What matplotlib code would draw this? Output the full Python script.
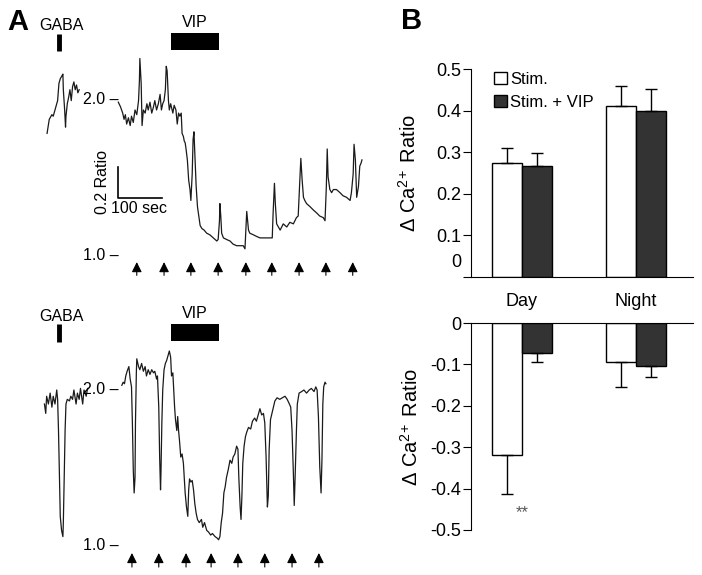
import numpy as np
import matplotlib
matplotlib.use("Agg")
import matplotlib.pyplot as plt
from matplotlib.patches import Patch

plt.rcParams['font.family'] = ['Liberation Sans', 'DejaVu Sans']
plt.rcParams['mathtext.fontset'] = 'custom'
plt.rcParams['mathtext.rm'] = 'Liberation Sans'
plt.rcParams['mathtext.it'] = 'Liberation Sans:italic'
plt.rcParams['axes.unicode_minus'] = False

# ---- Panel A: Ca2+ ratio traces (time in s, ratio) ----
top_seg1_t = [0, 5, 11, 14, 18, 24, 27, 30, 34, 36, 37, 40, 42, 43, 46, 49, 52, 55, 58, 61, 64, 67, 70, 73]
top_seg1_r = [1.78, 1.87, 1.90, 1.89, 1.93, 1.99, 2.10, 2.13, 2.15, 2.16, 2.06, 1.93, 1.82, 1.89, 1.97, 2.01,
              2.06, 1.99, 2.08, 2.11, 2.06, 2.09, 2.04, 2.06]
top_seg2_t = [162, 167, 172, 175, 178, 181, 185, 189, 192, 196, 200, 204, 208, 210, 211, 214, 216, 219, 223, 227,
              230, 234, 238, 242, 245, 249, 253, 257, 260, 263, 266, 269, 271, 273, 276, 278, 281, 286, 289, 293,
              296, 299, 302, 305, 307, 310, 312, 314, 316, 319, 322, 325, 327, 330, 332, 334, 336, 339, 342, 345,
              348, 352, 357, 363, 370, 378, 386, 389, 392, 393, 395, 397, 401, 408, 416, 423, 431, 439, 446, 450,
              452, 454, 455, 458, 461, 469, 476, 484, 492, 499, 507, 512, 514, 517, 519, 522, 526, 530, 537, 545,
              552, 560, 567, 571, 574, 577, 580, 583, 586, 590, 598, 605, 613, 620, 628, 632, 635, 637, 639, 643,
              647, 651, 658, 666, 673, 681, 689, 692, 696, 698, 701, 704, 708, 711, 714, 716]
top_seg2_r = [1.98, 1.95, 1.91, 1.87, 1.90, 1.84, 1.88, 1.83, 1.89, 1.85, 1.93, 1.90, 1.99, 2.12, 2.26, 2.10,
              1.83, 1.93, 1.91, 1.97, 1.93, 1.98, 1.91, 1.95, 1.99, 1.93, 1.97, 2.03, 1.93, 1.97, 1.99, 2.06,
              2.21, 2.18, 1.99, 1.93, 1.97, 1.91, 1.96, 1.93, 1.84, 1.91, 1.89, 1.91, 1.78, 1.76, 1.73, 1.72,
              1.68, 1.61, 1.48, 1.42, 1.35, 1.52, 1.74, 1.79, 1.65, 1.44, 1.31, 1.25, 1.19, 1.17, 1.16, 1.14,
              1.13, 1.11, 1.09, 1.10, 1.22, 1.33, 1.25, 1.14, 1.11, 1.10, 1.09, 1.07, 1.06, 1.06, 1.06, 1.04,
              1.16, 1.28, 1.25, 1.16, 1.14, 1.13, 1.12, 1.11, 1.11, 1.11, 1.11, 1.11, 1.27, 1.46, 1.33, 1.20,
              1.18, 1.16, 1.20, 1.18, 1.21, 1.20, 1.24, 1.25, 1.44, 1.62, 1.48, 1.37, 1.35, 1.33, 1.31, 1.29,
              1.27, 1.25, 1.24, 1.22, 1.44, 1.68, 1.50, 1.42, 1.40, 1.42, 1.42, 1.40, 1.38, 1.37, 1.35, 1.40,
              1.52, 1.71, 1.61, 1.37, 1.44, 1.57, 1.59, 1.61]

bot_seg1_t = [-6, -3, -1, 3, 7, 11, 14, 18, 22, 24, 26, 28, 30, 33, 36, 37, 39, 41, 43, 46, 51, 54, 58, 61,
              66, 69, 73, 76, 81, 84, 89, 92]
bot_seg1_r = [1.91, 1.85, 1.96, 1.91, 1.98, 1.89, 1.96, 1.91, 2.00, 1.94, 1.74, 1.47, 1.19, 1.10, 1.06, 1.15,
              1.44, 1.74, 1.91, 1.94, 1.93, 1.96, 1.94, 2.00, 1.91, 1.98, 1.94, 2.01, 1.91, 2.00, 1.96, 2.01]
bot_seg2_t = [170, 173, 176, 179, 182, 186, 189, 192, 194, 196, 198, 200, 201, 203, 204, 208, 211, 215, 219,
              223, 226, 230, 234, 238, 242, 245, 249, 251, 254, 256, 258, 259, 261, 263, 266, 269, 272, 275,
              278, 281, 283, 286, 288, 290, 292, 295, 297, 299, 301, 304, 307, 310, 312, 314, 317, 320, 322,
              324, 327, 330, 333, 336, 339, 342, 346, 351, 354, 358, 363, 367, 372, 376, 382, 387, 390, 393,
              396, 399, 402, 405, 408, 412, 416, 420, 423, 427, 431, 434, 436, 439, 441, 443, 445, 448, 451,
              454, 458, 463, 467, 472, 476, 481, 484, 488, 492, 495, 498, 501, 503, 505, 508, 513, 518, 523,
              529, 535, 541, 546, 551, 554, 557, 560, 562, 564, 567, 569, 573, 579, 584, 590, 596, 601, 607,
              611, 614, 617, 620, 623, 625, 627, 629, 632, 634]
bot_seg2_r = [2.03, 2.05, 2.04, 2.09, 2.12, 2.15, 2.07, 2.02, 1.79, 1.49, 1.34, 1.44, 1.79, 2.11, 2.20, 2.15,
              2.13, 2.17, 2.12, 2.15, 2.09, 2.13, 2.10, 2.13, 2.11, 2.12, 2.07, 2.09, 1.89, 1.57, 1.36, 1.47,
              1.79, 2.00, 2.13, 2.17, 2.19, 2.22, 2.25, 2.21, 2.09, 2.11, 2.00, 1.89, 1.81, 1.74, 1.83, 1.74,
              1.68, 1.57, 1.59, 1.53, 1.44, 1.34, 1.25, 1.19, 1.36, 1.43, 1.41, 1.42, 1.36, 1.27, 1.21, 1.17,
              1.15, 1.17, 1.12, 1.15, 1.10, 1.09, 1.07, 1.08, 1.06, 1.05, 1.04, 1.06, 1.15, 1.21, 1.34, 1.38,
              1.44, 1.49, 1.55, 1.53, 1.57, 1.59, 1.64, 1.62, 1.44, 1.25, 1.17, 1.32, 1.53, 1.64, 1.70, 1.73,
              1.76, 1.75, 1.80, 1.82, 1.80, 1.85, 1.88, 1.84, 1.85, 1.79, 1.57, 1.25, 1.32, 1.62, 1.81, 1.87,
              1.93, 1.95, 1.94, 1.95, 1.96, 1.94, 1.91, 1.89, 1.74, 1.47, 1.26, 1.44, 1.74, 1.91, 1.98, 1.99,
              2.00, 1.98, 2.00, 2.01, 1.99, 2.02, 2.00, 1.83, 1.51, 1.34, 1.55, 1.91, 2.02, 2.05, 2.04]

top_stim_times = [204, 266, 327, 389, 452, 511, 573, 634, 695]
bot_stim_times = [193, 254, 316, 373, 434, 495, 557, 618]
gaba_time = 27
vip_on, vip_off = 282, 390

# ---- Panel B: bar data ----
groups = ['Day', 'Night']
inc_stim = [0.275, 0.41]
inc_stim_err = [0.035, 0.05]
inc_vip = [0.267, 0.398]
inc_vip_err = [0.032, 0.053]
dec_stim = [-0.32, -0.093]
dec_stim_err = [0.092, 0.062]
dec_vip = [-0.073, -0.103]
dec_vip_err = [0.022, 0.027]

W, H = 702, 575
fig = plt.figure(figsize=(W / 100, H / 100), dpi=100)


def px_axes(x0, y0, x1, y1):
    # axes from pixel box (top-left origin)
    return fig.add_axes([x0 / W, 1 - y1 / H, (x1 - x0) / W, (y1 - y0) / H])


trace_col = '#1a1a1a'


def draw_trace(ax, segs, stims, ytop, ylo, arrow_lo, arrow_hi):
    for t, r in segs:
        ax.plot(t, r, color=trace_col, lw=0.9)
    ax.set_xlim(-107, 757)
    ax.set_ylim(ylo, ytop)
    ax.axis('off')
    for s in stims:
        ax.annotate('', xy=(s, arrow_hi), xytext=(s, arrow_lo),
                    arrowprops=dict(arrowstyle='-|>', color='k', lw=0.8, mutation_scale=15,
                                    shrinkA=0, shrinkB=0))


ax_t = px_axes(0, 0, 380, 290)
draw_trace(ax_t, [(top_seg1_t, top_seg1_r), (top_seg2_t, top_seg2_r)], top_stim_times,
           2.635, 0.776, 0.87, 0.955)
ax_b = px_axes(0, 290, 380, 575)
draw_trace(ax_b, [(bot_seg1_t, bot_seg1_r), (bot_seg2_t, bot_seg2_r)], bot_stim_times,
           2.641, 0.814, 0.865, 0.955)

for ax in (ax_t, ax_b):
    ax.plot([gaba_time, gaba_time], [2.31, 2.42], color='k', lw=3.5, solid_capstyle='butt')
    ax.fill_between([vip_on, vip_off], 2.315, 2.425, color='k', lw=0)
    ax.text(gaba_time + 5, 2.47, 'GABA', ha='center', va='center', fontsize=11.5)
    ax.text((vip_on + vip_off) / 2, 2.49, 'VIP', ha='center', va='center', fontsize=11.5)
    ax.text(163, 2.0, '2.0 –', ha='right', va='center', fontsize=11.5)
    ax.text(163, 1.0, '1.0 –', ha='right', va='center', fontsize=11.5)

# scale bar
ax_t.plot([161, 161, 261], [1.565, 1.365, 1.365], color='k', lw=1.2)
ax_t.text(127, 1.47, '0.2 Ratio', rotation=90, ha='center', va='center', fontsize=11.5)
ax_t.text(146, 1.30, '100 sec', ha='left', va='center', fontsize=11.5)

fig.text(18 / W, 1 - 22 / H, 'A', fontsize=21, fontweight='bold', ha='center', va='center')
fig.text(412 / W, 1 - 21 / H, 'B', fontsize=21, fontweight='bold', ha='center', va='center')

# ---- Panel B bars ----
x = np.arange(len(groups))
bw = 0.263
dark = '#333333'
xlim = (-0.447, 1.5)
ylab = r'Δ Ca$^{2\!+}$ Ratio'

axu = px_axes(471, 69, 693, 277)
axu.bar(x - bw / 2, inc_stim, bw, color='white', edgecolor='k', lw=1.0)
axu.bar(x + bw / 2, inc_vip, bw, color=dark, edgecolor='k', lw=1.0)
axu.errorbar(x - bw / 2, inc_stim, yerr=[[0, 0], inc_stim_err], fmt='none', ecolor='k', elinewidth=1,
             capsize=4, capthick=1)
axu.errorbar(x + bw / 2, inc_vip, yerr=[[0, 0], inc_vip_err], fmt='none', ecolor='k', elinewidth=1,
             capsize=4, capthick=1)
axu.set_xlim(*xlim)
axu.set_ylim(0, 0.5)
axu.spines[['top', 'right']].set_visible(False)
axu.set_xticks([])
axu.set_yticks([0, 0.1, 0.2, 0.3, 0.4, 0.5])
axu.set_yticklabels(['', '0.1', '0.2', '0.3', '0.4', '0.5'])
axu.tick_params(axis='y', length=6, pad=1, labelsize=13)
axu.text(-0.043, 0.034, '0', transform=axu.get_yaxis_transform(), ha='right', va='center', fontsize=13)
axu.set_ylabel(ylab, fontsize=14.5, labelpad=12)
axu.legend(handles=[Patch(facecolor='white', edgecolor='k', lw=1.0),
                    Patch(facecolor=dark, edgecolor='k', lw=1.0)],
           labels=['Stim.', 'Stim. + VIP'], loc='upper left', bbox_to_anchor=(0.105, 0.985),
           frameon=False, fontsize=12, handlelength=0.75, handleheight=0.75, handletextpad=0.2,
           labelspacing=0.45, borderpad=0, borderaxespad=0)

axd = px_axes(471, 323, 693, 530)
axd.bar(x - bw / 2, dec_stim, bw, color='white', edgecolor='k', lw=1.0)
axd.bar(x + bw / 2, dec_vip, bw, color=dark, edgecolor='k', lw=1.0)
axd.errorbar(x - bw / 2, dec_stim, yerr=[dec_stim_err, [0, 0]], fmt='none', ecolor='k', elinewidth=1,
             capsize=4, capthick=1)
axd.errorbar(x + bw / 2, dec_vip, yerr=[dec_vip_err, [0, 0]], fmt='none', ecolor='k', elinewidth=1,
             capsize=4, capthick=1)
axd.set_xlim(*xlim)
axd.set_ylim(-0.5, 0)
axd.spines[['bottom', 'right']].set_visible(False)
axd.xaxis.tick_top()
axd.set_xticks(x)
axd.set_xticklabels(groups, fontsize=13)
axd.tick_params(axis='x', length=0, pad=9)
axd.set_yticks([0, -0.1, -0.2, -0.3, -0.4, -0.5])
axd.set_yticklabels(['0', '-0.1', '-0.2', '-0.3', '-0.4', '-0.5'])
axd.tick_params(axis='y', length=6, pad=1, labelsize=13)
axd.set_ylabel(ylab, fontsize=14.5, labelpad=6)
axd.text(0, -0.457, '**', ha='center', va='center', fontsize=12, color='#555555')

fig.savefig('out.png', dpi=100)
